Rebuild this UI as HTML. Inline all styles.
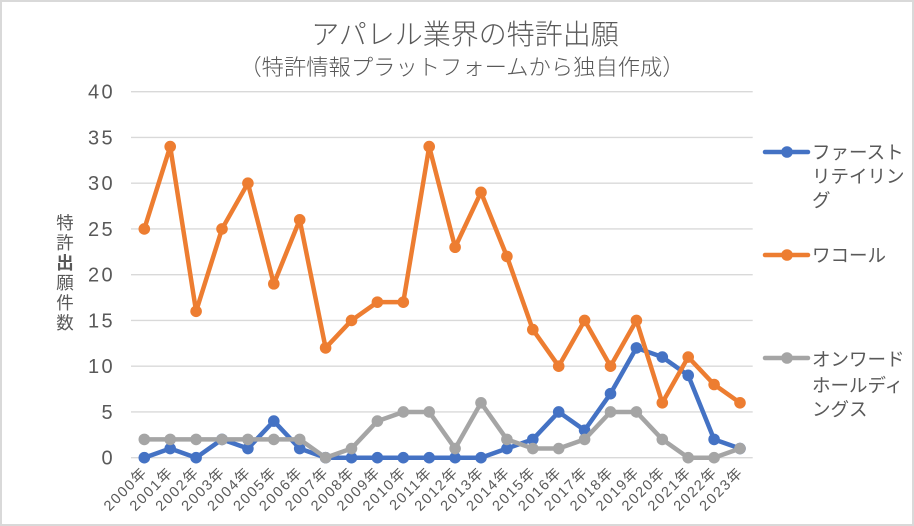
<!DOCTYPE html>
<html>
<head>
<meta charset="utf-8">
<style>
  html,body{margin:0;padding:0;background:#fff;}
  body{width:914px;height:526px;overflow:hidden;}
  svg{display:block;}
  text{font-family:"Liberation Sans","Noto Sans CJK JP",sans-serif;fill:#595959;}
  .jp{font-family:"Noto Sans CJK JP","Liberation Sans",sans-serif;}
</style>
</head>
<body>
<svg width="914" height="526" viewBox="0 0 914 526" xmlns="http://www.w3.org/2000/svg">
  <defs>
    <marker id="mb" markerUnits="userSpaceOnUse" markerWidth="14" markerHeight="14" refX="7" refY="7" viewBox="0 0 14 14"><circle cx="7" cy="7" r="5.8" fill="#4472C4"/></marker>
    <marker id="mo" markerUnits="userSpaceOnUse" markerWidth="14" markerHeight="14" refX="7" refY="7" viewBox="0 0 14 14"><circle cx="7" cy="7" r="5.8" fill="#ED7D31"/></marker>
    <marker id="mg" markerUnits="userSpaceOnUse" markerWidth="14" markerHeight="14" refX="7" refY="7" viewBox="0 0 14 14"><circle cx="7" cy="7" r="5.8" fill="#A5A5A5"/></marker>
  </defs>
  <rect x="1" y="1" width="912" height="524" fill="#fff" stroke="#d9d9d9" stroke-width="2"/>

  <!-- Title -->
  <text class="jp" x="465" y="44" text-anchor="middle" font-size="28" font-weight="300">アパレル業界の特許出願</text>
  <text class="jp" x="462" y="75" text-anchor="middle" font-size="22.3" font-weight="300">（特許情報プラットフォームから独自作成）</text>

  <!-- Gridlines -->
  <g stroke="#d9d9d9" stroke-width="1.4">
    <line x1="131" y1="91.7" x2="752.7" y2="91.7"/>
    <line x1="131" y1="137.45" x2="752.7" y2="137.45"/>
    <line x1="131" y1="183.2" x2="752.7" y2="183.2"/>
    <line x1="131" y1="228.95" x2="752.7" y2="228.95"/>
    <line x1="131" y1="274.7" x2="752.7" y2="274.7"/>
    <line x1="131" y1="320.45" x2="752.7" y2="320.45"/>
    <line x1="131" y1="366.2" x2="752.7" y2="366.2"/>
    <line x1="131" y1="411.95" x2="752.7" y2="411.95"/>
    <line x1="131" y1="457.7" x2="752.7" y2="457.7"/>
  </g>

  <!-- Y tick labels -->
  <g font-size="20" letter-spacing="2.4">
    <text x="88" y="98.7">40</text>
    <text x="88" y="144.5">35</text>
    <text x="88" y="190.2">30</text>
    <text x="88" y="236">25</text>
    <text x="88" y="281.7">20</text>
    <text x="88" y="327.5">15</text>
    <text x="88" y="373.2">10</text>
    <text x="101.5" y="419">5</text>
    <text x="101.5" y="464.7">0</text>
  </g>

  <!-- Y axis title -->
  <g class="jp" font-size="17.5" text-anchor="middle">
    <text class="jp" x="65" y="229">特</text>
    <text class="jp" x="65" y="249">許</text>
    <text class="jp" x="65" y="269" font-weight="bold">出</text>
    <text class="jp" x="65" y="289">願</text>
    <text class="jp" x="65" y="309">件</text>
    <text class="jp" x="65" y="329">数</text>
  </g>

  <!-- X labels -->
  <g font-size="14.5" letter-spacing="1.6" text-anchor="end">
    <text transform="translate(148.3,473) rotate(-45)">2000年</text>
    <text transform="translate(174.2,473) rotate(-45)">2001年</text>
    <text transform="translate(200.1,473) rotate(-45)">2002年</text>
    <text transform="translate(226,473) rotate(-45)">2003年</text>
    <text transform="translate(251.9,473) rotate(-45)">2004年</text>
    <text transform="translate(277.8,473) rotate(-45)">2005年</text>
    <text transform="translate(303.7,473) rotate(-45)">2006年</text>
    <text transform="translate(329.6,473) rotate(-45)">2007年</text>
    <text transform="translate(355.5,473) rotate(-45)">2008年</text>
    <text transform="translate(381.4,473) rotate(-45)">2009年</text>
    <text transform="translate(407.3,473) rotate(-45)">2010年</text>
    <text transform="translate(433.2,473) rotate(-45)">2011年</text>
    <text transform="translate(459.1,473) rotate(-45)">2012年</text>
    <text transform="translate(485,473) rotate(-45)">2013年</text>
    <text transform="translate(510.9,473) rotate(-45)">2014年</text>
    <text transform="translate(536.8,473) rotate(-45)">2015年</text>
    <text transform="translate(562.7,473) rotate(-45)">2016年</text>
    <text transform="translate(588.6,473) rotate(-45)">2017年</text>
    <text transform="translate(614.5,473) rotate(-45)">2018年</text>
    <text transform="translate(640.4,473) rotate(-45)">2019年</text>
    <text transform="translate(666.3,473) rotate(-45)">2020年</text>
    <text transform="translate(692.2,473) rotate(-45)">2021年</text>
    <text transform="translate(718.1,473) rotate(-45)">2022年</text>
    <text transform="translate(744,473) rotate(-45)">2023年</text>
  </g>

  <!-- Series: Fast Retailing (blue) -->
  <polyline fill="none" stroke="#4472C4" stroke-width="4.5" stroke-linejoin="round" stroke-linecap="round"
    marker-start="url(#mb)" marker-mid="url(#mb)" marker-end="url(#mb)"
    points="144.3,457.7 170.2,448.55 196.1,457.7 222,439.4 247.9,448.55 273.8,421.1 299.7,448.55 325.6,457.7 351.5,457.7 377.4,457.7 403.3,457.7 429.2,457.7 455.1,457.7 481,457.7 506.9,448.55 532.8,439.4 558.7,411.95 584.6,430.25 610.5,393.65 636.4,347.9 662.3,357.05 688.2,375.35 714.1,439.4 740,448.55"/>

  <!-- Series: Wacoal (orange) -->
  <polyline fill="none" stroke="#ED7D31" stroke-width="4.5" stroke-linejoin="round" stroke-linecap="round"
    marker-start="url(#mo)" marker-mid="url(#mo)" marker-end="url(#mo)"
    points="144.3,228.95 170.2,146.6 196.1,311.3 222,228.95 247.9,183.2 273.8,283.85 299.7,219.8 325.6,347.9 351.5,320.45 377.4,302.15 403.3,302.15 429.2,146.6 455.1,247.25 481,192.35 506.9,256.4 532.8,329.6 558.7,366.2 584.6,320.45 610.5,366.2 636.4,320.45 662.3,402.8 688.2,357.05 714.1,384.5 740,402.8"/>

  <!-- Series: Onward (gray) -->
  <polyline fill="none" stroke="#A5A5A5" stroke-width="4.5" stroke-linejoin="round" stroke-linecap="round"
    marker-start="url(#mg)" marker-mid="url(#mg)" marker-end="url(#mg)"
    points="144.3,439.4 170.2,439.4 196.1,439.4 222,439.4 247.9,439.4 273.8,439.4 299.7,439.4 325.6,457.7 351.5,448.55 377.4,421.1 403.3,411.95 429.2,411.95 455.1,448.55 481,402.8 506.9,439.4 532.8,448.55 558.7,448.55 584.6,439.4 610.5,411.95 636.4,411.95 662.3,439.4 688.2,457.7 714.1,457.7 740,448.55"/>

  <!-- Legend -->
  <line x1="765" y1="152" x2="808" y2="152" stroke="#4472C4" stroke-width="4.5" stroke-linecap="round"/>
  <circle cx="787" cy="152" r="5.8" fill="#4472C4"/>
  <g class="jp" font-size="18.5">
    <text class="jp" x="812" y="159">ファースト</text>
    <text class="jp" x="812" y="183">リテイリン</text>
    <text class="jp" x="812" y="207">グ</text>
  </g>

  <line x1="765" y1="255" x2="808" y2="255" stroke="#ED7D31" stroke-width="4.5" stroke-linecap="round"/>
  <circle cx="787" cy="255" r="5.8" fill="#ED7D31"/>
  <text class="jp" x="812" y="262" font-size="18.5">ワコール</text>

  <line x1="765" y1="358" x2="808" y2="358" stroke="#A5A5A5" stroke-width="4.5" stroke-linecap="round"/>
  <circle cx="787" cy="358" r="5.8" fill="#A5A5A5"/>
  <g class="jp" font-size="18.5">
    <text class="jp" x="812" y="366">オンワード</text>
    <text class="jp" x="812" y="392">ホールディ</text>
    <text class="jp" x="812" y="416">ングス</text>
  </g>
</svg>
</body>
</html>
